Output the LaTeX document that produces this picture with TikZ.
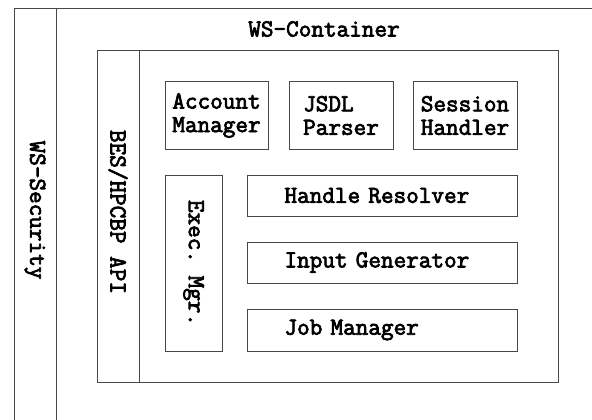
\documentclass[tikz,border=0pt]{standalone}
\usepackage{fontspec}
\setmonofont{Latin Modern Mono}[BoldFont={Latin Modern Mono}, BoldFeatures={FakeBold=3}]
\begin{document}
\begin{tikzpicture}[x=1pt,y=-1pt,
  line/.style={draw=black!72, line width=1pt},
  box/.style={line, inner sep=0pt, align=left, font=\lbl},
  lbl/.style={font=\lbl, inner sep=0pt},
  wide/.style={box, minimum width=270, text width=195},
]
\newcommand{\lbl}{\fontsize{24.5}{23.5}\selectfont\ttfamily\bfseries}
\useasboundingbox (0,0) rectangle (592,420);
% outer security / container frame
\coordinate (o1) at (14,420);
\coordinate (o2) at (14,9);
\coordinate (o3) at (592,9);
\coordinate (c1) at (56,9);
\coordinate (c2) at (56,420);
\draw[line] (o1) -- (o2) -- (o3);
\draw[line] (c1) -- (c2);
\node[lbl, rotate=-90] (wssec) at (35,210) {WS-Security};
\node[lbl] (wscont) at (324,29) {WS-Container};
% BES box
\node[line, inner sep=0pt, minimum width=461, minimum height=331] (bes) at (327.5,216.5) {};
\coordinate (d1) at (139,51);
\coordinate (d2) at (139,382);
\draw[line] (d1) -- (d2);
\node[lbl, rotate=-90] (besl) at (118,212) {BES/HPCBP API};
% top row
\node[box, minimum width=103, minimum height=67] (acc) at (216.5,115.5) {Account\\Manager};
\node[box, minimum width=104, minimum height=67] (jsdl) at (341,115.5) {JSDL\\Parser};
\node[box, minimum width=104, minimum height=67] (sess) at (465,115.5) {Session\\Handler};
% exec manager
\node[line, inner sep=0pt, minimum width=57, minimum height=176] (exec) at (193.5,263) {};
\node[lbl, rotate=-90] (execl) at (exec.center) {Exec. Mgr.};
% right column
\node[wide, minimum height=41] (hr) at (382,195.5) {Handle Resolver};
\node[wide, minimum height=41] (ig) at (382,262.5) {Input Generator};
\node[wide, minimum height=42] (jm) at (382,330) {Job Manager};
\end{tikzpicture}
\end{document}
